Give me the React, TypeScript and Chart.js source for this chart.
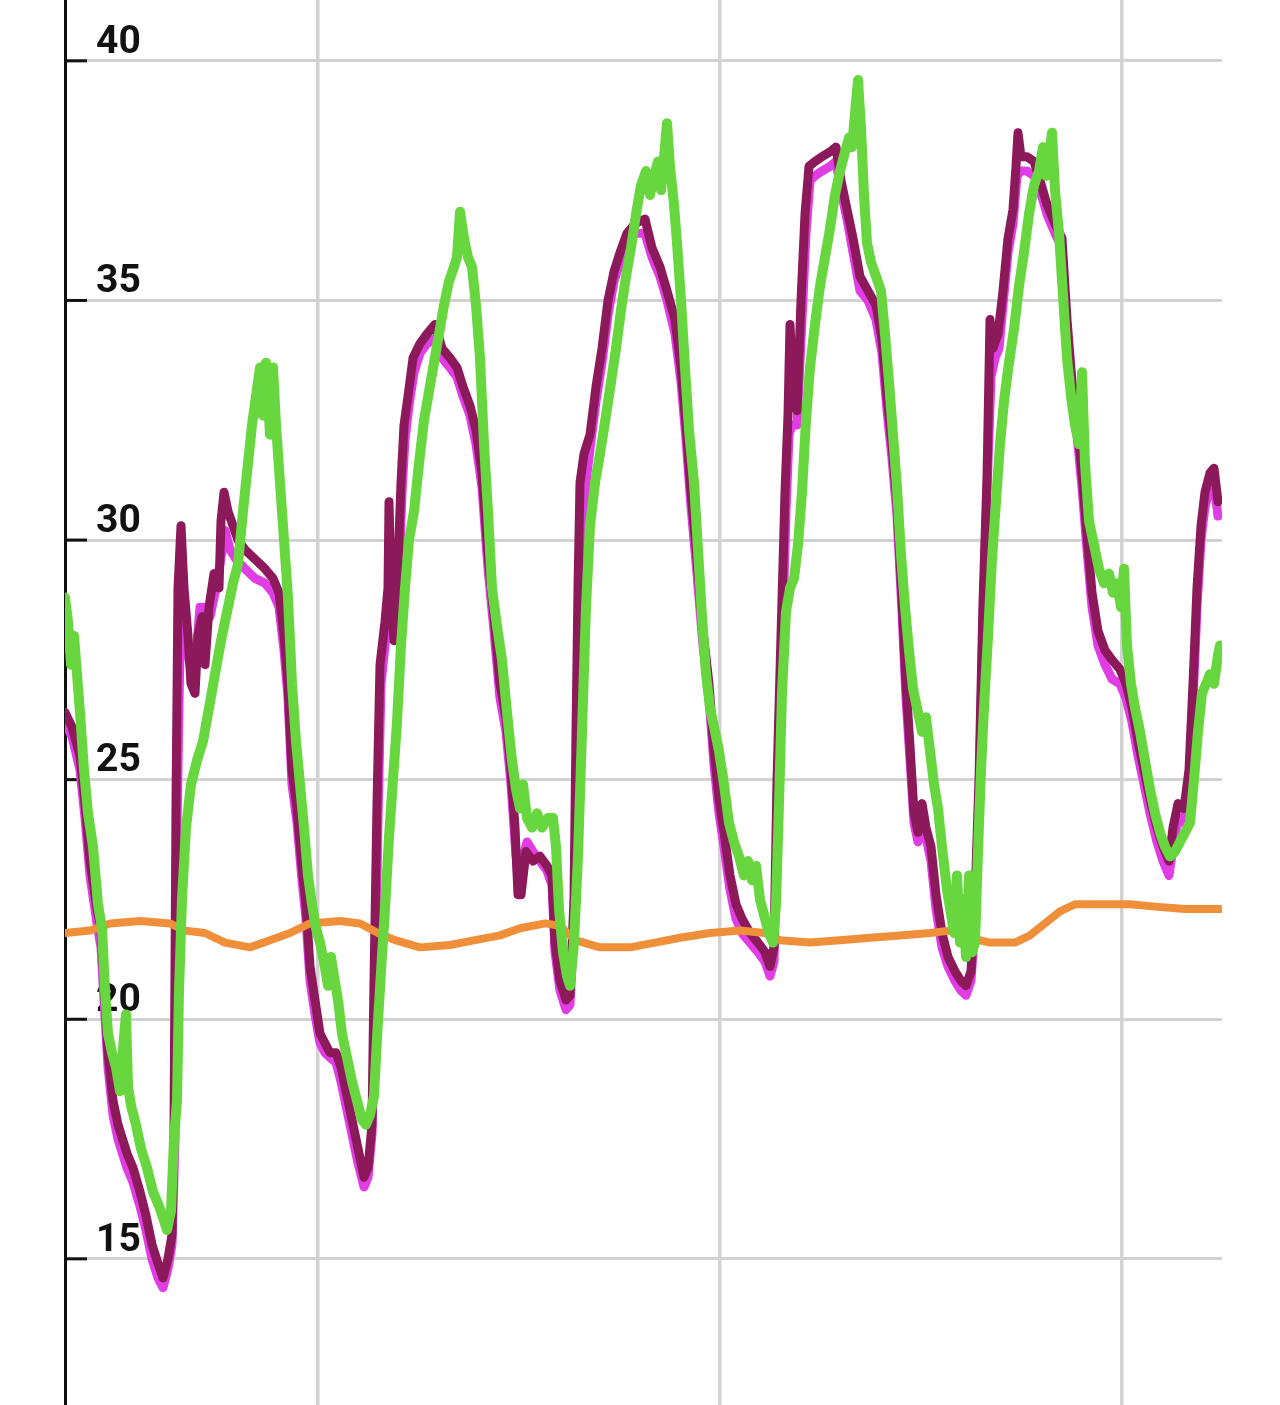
import { useEffect, useRef } from "react";
import { Chart, registerables, type ChartConfiguration, type Plugin } from "chart.js";

Chart.register(...registerables);

// x is the sample number along the log, y the reading
const yTickValues = [15, 20, 25, 30, 35, 40];
const xGridValues = [253, 655, 1057];

const darkMagenta: [number, number][] = [
  [0, 26.4], [7, 26.1], [15, 25.5], [20, 24.5], [25, 23.3], [32, 22.3], [36, 21.9], [39, 20.8],
  [43, 19.3], [48, 18.3], [53, 17.8], [62, 17.2], [68, 16.9], [75, 16.4], [81, 15.9], [87, 15.3],
  [93, 14.9], [98, 14.6], [103, 15.0], [107, 15.5], [109, 17.7], [111, 24.5], [113, 29.0], [116, 30.3],
  [119, 29.0], [123, 28.0], [126, 27.0], [130, 26.8], [133, 28.0], [137, 28.4], [140, 27.4], [144, 28.6],
  [149, 29.3], [154, 29.0], [156, 30.4], [159, 31.0], [163, 30.6], [168, 30.3], [173, 30.0], [180, 29.8],
  [190, 29.6], [200, 29.4], [208, 29.2], [214, 28.9], [219, 28.0], [223, 27.0], [227, 25.2], [232, 24.4],
  [237, 23.2], [241, 22.4], [245, 21.1], [250, 20.4], [255, 19.7], [260, 19.5], [265, 19.3], [271, 19.3],
  [276, 19.0], [282, 18.4], [287, 17.9], [293, 17.3], [299, 16.7], [303, 16.9], [307, 17.8], [309, 20.8],
  [312, 24.5], [315, 27.4], [320, 28.3], [323, 29.0], [324, 30.8], [326, 29.0], [329, 27.9], [333, 29.5],
  [336, 31.2], [339, 32.4], [343, 33.0], [348, 33.8], [355, 34.1], [362, 34.3], [370, 34.5], [377, 34.0],
  [385, 33.8], [392, 33.6], [398, 33.2], [405, 32.8], [411, 32.3], [417, 31.4], [423, 29.7], [429, 28.4],
  [435, 27.0], [441, 26.3], [446, 25.2], [450, 24.0], [453, 22.6], [456, 22.6], [461, 23.5], [468, 23.3],
  [475, 23.4], [482, 23.2], [487, 23.0], [490, 21.6], [495, 20.8], [501, 20.4], [505, 20.5], [509, 22.5],
  [511, 26.0], [513, 29.0], [515, 31.2], [519, 31.8], [525, 32.2], [531, 33.2], [537, 34.0], [543, 35.0],
  [549, 35.6], [555, 36.0], [562, 36.4], [570, 36.6], [580, 36.7], [587, 36.1], [595, 35.7], [602, 35.2],
  [610, 34.6], [616, 33.6], [621, 32.4], [626, 31.0], [632, 29.6], [638, 28.1], [644, 27.0], [649, 25.6],
  [654, 24.6], [659, 23.9], [665, 23.0], [671, 22.4], [677, 22.1], [685, 21.8], [693, 21.6], [700, 21.4],
  [705, 21.1], [709, 21.5], [712, 25.0], [716, 28.0], [720, 31.0], [723, 32.6], [725, 34.5], [728, 33.0],
  [732, 32.7], [736, 35.0], [740, 36.8], [744, 37.8], [750, 37.9], [757, 38.0], [765, 38.1], [771, 38.2],
  [776, 37.5], [782, 36.9], [788, 36.3], [795, 35.5], [803, 35.2], [811, 34.9], [817, 34.2], [822, 33.0],
  [827, 32.0], [832, 30.8], [837, 28.8], [841, 27.0], [845, 25.7], [849, 24.3], [853, 23.9], [857, 24.5],
  [861, 24.0], [866, 23.6], [871, 22.6], [877, 21.8], [883, 21.3], [890, 21.0], [896, 20.8], [901, 20.7],
  [906, 21.0], [910, 22.5], [914, 25.0], [918, 28.7], [922, 31.3], [925, 34.6], [928, 34.0], [933, 34.3],
  [938, 35.2], [943, 36.3], [948, 36.9], [951, 37.8], [953, 38.5], [956, 38.0], [962, 38.0], [969, 37.9],
  [975, 37.5], [982, 37.0], [990, 36.6], [997, 36.3], [1002, 34.6], [1007, 33.3], [1012, 32.5], [1017, 31.4],
  [1022, 30.1], [1027, 28.9], [1033, 28.1], [1040, 27.7], [1047, 27.5], [1055, 27.3], [1061, 27.0], [1067, 26.5],
  [1073, 25.8], [1079, 25.2], [1085, 24.6], [1092, 24.0], [1098, 23.6], [1104, 23.3], [1108, 24.0], [1113, 24.5],
  [1119, 24.4], [1124, 25.2], [1128, 27.0], [1132, 29.0], [1136, 30.3], [1140, 31.0], [1145, 31.4], [1149, 31.5],
  [1153, 30.8],
];

const brightMagenta: [number, number][] = [
  [0, 26.2], [7, 25.9], [15, 25.2], [20, 24.2], [25, 23.0], [32, 22.0], [36, 21.5], [39, 20.4],
  [43, 19.0], [48, 18.0], [53, 17.5], [62, 16.9], [68, 16.6], [75, 16.1], [81, 15.6], [87, 15.0],
  [93, 14.6], [98, 14.4], [103, 14.8], [107, 15.3], [110, 17.5], [112, 24.0], [115, 27.8], [119, 28.2],
  [123, 27.6], [127, 27.2], [131, 27.6], [135, 28.6], [140, 28.6], [145, 28.4], [150, 28.9], [155, 29.5],
  [160, 30.2], [165, 29.8], [171, 29.6], [180, 29.4], [190, 29.2], [200, 29.1], [208, 28.9], [214, 28.6],
  [219, 27.7], [223, 26.7], [227, 24.9], [232, 24.1], [237, 22.9], [241, 22.1], [245, 20.8], [250, 20.1],
  [255, 19.5], [260, 19.3], [265, 19.2], [271, 19.1], [276, 18.7], [282, 18.1], [287, 17.6], [293, 17.0],
  [299, 16.5], [303, 16.7], [307, 17.6], [310, 20.5], [313, 24.2], [316, 27.0], [321, 28.0], [325, 28.6],
  [330, 28.0], [334, 29.3], [337, 31.0], [340, 32.1], [344, 32.8], [349, 33.5], [355, 33.9], [362, 34.1],
  [370, 34.2], [377, 33.8], [385, 33.6], [392, 33.4], [398, 33.0], [405, 32.6], [411, 32.0], [417, 31.1],
  [423, 29.4], [429, 28.1], [435, 26.7], [441, 26.0], [446, 24.9], [450, 23.7], [453, 22.9], [457, 23.3],
  [462, 23.7], [468, 23.5], [475, 23.3], [482, 23.1], [487, 22.8], [490, 21.4], [495, 20.6], [501, 20.2],
  [505, 20.3], [509, 22.0], [512, 25.5], [514, 28.5], [517, 29.8], [521, 31.2], [525, 31.9], [531, 32.9],
  [537, 33.7], [543, 34.7], [549, 35.4], [555, 35.8], [562, 36.2], [570, 36.4], [580, 36.4], [587, 35.9],
  [595, 35.5], [602, 35.0], [610, 34.3], [616, 33.3], [621, 32.1], [626, 30.7], [632, 29.3], [638, 27.8],
  [644, 26.7], [649, 25.3], [654, 24.3], [659, 23.6], [665, 22.7], [671, 22.1], [677, 21.8], [685, 21.6],
  [693, 21.4], [700, 21.2], [705, 20.9], [709, 21.2], [713, 24.5], [717, 27.6], [721, 30.6], [724, 32.2],
  [727, 32.4], [732, 32.4], [737, 34.6], [741, 36.4], [745, 37.5], [750, 37.6], [757, 37.7], [765, 37.8],
  [771, 37.9], [776, 37.3], [782, 36.7], [788, 36.0], [795, 35.2], [803, 35.0], [811, 34.6], [817, 33.9],
  [822, 32.7], [827, 31.7], [832, 30.5], [837, 28.5], [841, 26.7], [845, 25.4], [849, 24.1], [853, 23.7],
  [857, 24.2], [861, 23.8], [866, 23.3], [871, 22.3], [877, 21.5], [883, 21.1], [890, 20.8], [896, 20.6],
  [901, 20.5], [906, 20.8], [910, 22.0], [914, 24.6], [918, 28.3], [922, 31.0], [926, 33.4], [930, 33.8],
  [934, 34.0], [938, 34.9], [943, 36.0], [948, 36.6], [952, 37.6], [956, 37.7], [962, 37.7], [969, 37.6],
  [975, 37.3], [982, 36.8], [990, 36.4], [997, 36.1], [1002, 34.3], [1007, 33.0], [1012, 32.2], [1017, 31.1],
  [1022, 29.8], [1027, 28.6], [1033, 27.8], [1040, 27.4], [1047, 27.1], [1055, 27.0], [1061, 26.7], [1067, 26.2],
  [1073, 25.5], [1079, 24.9], [1085, 24.3], [1092, 23.7], [1098, 23.3], [1104, 23.0], [1108, 23.6], [1113, 24.2],
  [1119, 24.1], [1124, 24.9], [1128, 26.6], [1132, 28.6], [1136, 30.0], [1140, 30.7], [1145, 31.1], [1149, 31.2],
  [1153, 30.5],
];

const green: [number, number][] = [
  [0, 28.8], [3, 28.3], [6, 27.4], [9, 28.0], [12, 27.2], [15, 26.4], [19, 25.2], [23, 24.3],
  [28, 23.6], [33, 22.4], [37, 21.9], [40, 20.6], [43, 19.7], [47, 19.3], [51, 19.0], [55, 18.5],
  [58, 19.4], [61, 20.1], [63, 18.6], [66, 18.2], [71, 17.8], [76, 17.3], [82, 16.9], [88, 16.4],
  [94, 16.1], [99, 15.8], [102, 15.6], [106, 16.0], [109, 17.5], [112, 18.3], [114, 20.6], [117, 22.5],
  [121, 24.0], [126, 24.9], [132, 25.4], [138, 25.8], [144, 26.5], [150, 27.2], [156, 27.9], [162, 28.5],
  [168, 29.1], [173, 29.5], [178, 30.6], [183, 31.6], [187, 32.4], [191, 33.0], [195, 33.6], [198, 32.6],
  [201, 33.7], [205, 32.2], [208, 33.6], [211, 32.4], [215, 31.2], [219, 30.0], [223, 28.8], [227, 27.0],
  [231, 25.8], [235, 24.9], [239, 24.0], [243, 23.0], [247, 22.4], [251, 21.9], [255, 21.6], [259, 21.2],
  [263, 20.7], [266, 21.3], [269, 20.9], [273, 20.4], [277, 19.7], [282, 19.2], [287, 18.7], [292, 18.3],
  [297, 17.9], [301, 17.8], [305, 18.0], [309, 18.4], [312, 19.6], [316, 21.0], [320, 22.3], [324, 23.8],
  [328, 25.0], [332, 26.2], [336, 27.8], [340, 29.0], [344, 30.0], [349, 30.6], [354, 31.6], [359, 32.5],
  [364, 33.1], [369, 33.7], [374, 34.3], [379, 34.9], [384, 35.4], [389, 35.7], [392, 35.9], [395, 36.85],
  [399, 36.3], [403, 35.9], [407, 35.7], [411, 34.9], [415, 33.8], [419, 32.0], [423, 30.6], [427, 29.0],
  [432, 28.2], [437, 27.5], [442, 26.4], [447, 25.4], [451, 24.8], [455, 24.4], [458, 24.9], [462, 24.2],
  [467, 24.0], [472, 24.3], [477, 24.0], [483, 24.2], [488, 24.2], [491, 23.6], [494, 22.3], [498, 21.4],
  [502, 20.9], [505, 20.7], [509, 21.6], [513, 23.4], [517, 26.0], [521, 28.6], [525, 30.3], [530, 31.2],
  [535, 31.8], [541, 32.6], [546, 33.3], [551, 34.0], [556, 34.8], [561, 35.5], [566, 36.1], [571, 36.8],
  [576, 37.4], [581, 37.7], [585, 37.2], [589, 37.6], [593, 37.9], [596, 37.3], [599, 38.0], [602, 38.7],
  [605, 37.8], [609, 37.0], [612, 36.2], [616, 35.0], [620, 33.6], [624, 32.3], [629, 31.2], [633, 29.8],
  [637, 28.4], [641, 27.2], [645, 26.5], [649, 26.1], [654, 25.6], [659, 24.9], [664, 24.1], [669, 23.7],
  [674, 23.4], [679, 23.0], [683, 23.3], [687, 22.9], [691, 23.2], [695, 22.5], [700, 22.1], [704, 21.8],
  [708, 21.6], [711, 22.4], [714, 24.5], [717, 26.8], [721, 28.5], [725, 29.0], [729, 29.2], [733, 29.9],
  [737, 31.0], [741, 32.5], [745, 33.6], [750, 34.5], [755, 35.3], [760, 35.9], [765, 36.5], [770, 37.2],
  [775, 37.7], [780, 38.1], [784, 38.4], [787, 38.2], [790, 38.9], [793, 39.6], [796, 38.6], [799, 37.2],
  [802, 36.2], [806, 35.8], [811, 35.5], [816, 35.2], [820, 34.3], [824, 33.3], [828, 32.2], [832, 31.1],
  [836, 29.7], [840, 28.6], [844, 27.7], [848, 26.9], [853, 26.4], [857, 26.0], [861, 26.3], [865, 25.6],
  [869, 24.9], [873, 24.4], [877, 23.6], [882, 22.7], [886, 22.2], [889, 21.8], [892, 23.0], [895, 21.6],
  [898, 22.5], [901, 21.3], [904, 23.0], [907, 21.4], [910, 21.6], [913, 23.5], [916, 25.2], [919, 26.5],
  [923, 28.0], [927, 29.6], [931, 30.8], [935, 32.0], [939, 32.9], [944, 33.7], [949, 34.4], [954, 35.3],
  [959, 36.0], [964, 36.8], [969, 37.4], [974, 37.7], [978, 38.2], [981, 37.6], [984, 38.0], [987, 38.5],
  [990, 37.3], [994, 36.4], [998, 35.1], [1002, 33.8], [1006, 33.0], [1010, 32.4], [1014, 32.0], [1017, 33.5],
  [1020, 31.6], [1024, 30.4], [1029, 29.9], [1034, 29.4], [1039, 29.1], [1044, 29.3], [1048, 28.9], [1052, 29.1],
  [1056, 28.6], [1059, 29.4], [1062, 27.8], [1066, 27.0], [1070, 26.5], [1075, 26.0], [1080, 25.4], [1085, 24.8],
  [1090, 24.3], [1095, 23.9], [1100, 23.6], [1105, 23.4], [1110, 23.5], [1115, 23.7], [1120, 23.9], [1125, 24.1],
  [1129, 25.0], [1133, 26.0], [1137, 26.8], [1141, 27.0], [1145, 27.2], [1149, 27.0], [1153, 27.6], [1155, 27.8],
];

const orange: [number, number][] = [
  [0, 21.8], [25, 21.85], [45, 22.0], [75, 22.05], [105, 22.0], [120, 21.85], [140, 21.8], [160, 21.6],
  [185, 21.5], [205, 21.65], [225, 21.8], [245, 22.0], [275, 22.05], [295, 22.0], [313, 21.8], [330, 21.65],
  [355, 21.5], [385, 21.55], [410, 21.65], [435, 21.75], [455, 21.9], [480, 22.0], [495, 21.95], [510, 21.65],
  [535, 21.5], [565, 21.5], [590, 21.6], [615, 21.7], [645, 21.8], [675, 21.85], [700, 21.8], [715, 21.65],
  [745, 21.6], [775, 21.65], [805, 21.7], [835, 21.75], [865, 21.8], [885, 21.85], [905, 21.7], [925, 21.6],
  [950, 21.6], [965, 21.75], [980, 22.0], [995, 22.25], [1010, 22.4], [1035, 22.4], [1065, 22.4], [1090, 22.35],
  [1120, 22.3], [1155, 22.3],
];

const toPoints = (rows: [number, number][]) => rows.map(([x, y]) => ({ x, y }));

// short black marks pointing into the plot at each y tick
const innerTicks: Plugin<"line"> = {
  id: "innerTicks",
  beforeDatasetsDraw(chart) {
    const { ctx, chartArea, scales } = chart;
    const y = scales.y;
    ctx.save();
    ctx.strokeStyle = "#111111";
    ctx.lineWidth = 3;
    for (const t of y.ticks) {
      const py = y.getPixelForValue(t.value);
      ctx.beginPath();
      ctx.moveTo(chartArea.left, py);
      ctx.lineTo(chartArea.left + 22, py);
      ctx.stroke();
    }
    ctx.restore();
  },
};

const line = (label: string, rows: [number, number][], color: string, width: number) => ({
  label,
  data: toPoints(rows),
  borderColor: color,
  backgroundColor: color,
  borderWidth: width,
  pointRadius: 0,
  tension: 0,
  borderJoinStyle: "round" as const,
  borderCapStyle: "round" as const,
  fill: false,
});

export default function App() {
  const canvasRef = useRef<HTMLCanvasElement>(null);

  useEffect(() => {
    const canvas = canvasRef.current;
    if (!canvas) return;

    const config: ChartConfiguration<"line"> = {
      type: "line",
      data: {
        datasets: [
          line("green", green, "#67D63F", 10),
          line("orange", orange, "#EF8F3A", 8),
          line("dark magenta", darkMagenta, "#8C1A5B", 9),
          line("magenta", brightMagenta, "#E13DE4", 9),
        ],
      },
      options: {
        responsive: true,
        maintainAspectRatio: false,
        animation: false,
        layout: { padding: { left: 65, right: 58, top: 0, bottom: 0 } },
        plugins: {
          legend: { display: false },
          tooltip: { enabled: false },
        },
        scales: {
          x: {
            type: "linear",
            min: 0,
            max: 1157,
            afterBuildTicks: (scale) => {
              scale.ticks = xGridValues.map((value) => ({ value }));
            },
            ticks: { display: false },
            grid: { color: "#d2d2d2", lineWidth: 3.5, drawTicks: false },
            border: { display: false },
          },
          y: {
            type: "linear",
            min: 11.95,
            max: 41.27,
            afterBuildTicks: (scale) => {
              scale.ticks = yTickValues.map((value) => ({ value }));
            },
            afterFit: (scale) => {
              scale.width = 0;
              scale.paddingTop = 0;
              scale.paddingBottom = 0;
            },
            ticks: {
              mirror: true,
              padding: 31,
              labelOffset: -18,
              color: "#111111",
              font: { family: "Roboto", size: 39, weight: "bold" },
            },
            grid: { color: "#d2d2d2", lineWidth: 3, drawTicks: false },
            border: { display: true, color: "#111111", width: 3 },
          },
        },
      },
      plugins: [innerTicks],
    };

    const chart = new Chart(canvas, config);
    return () => chart.destroy();
  }, []);

  return (
    <div style={{ position: "absolute", left: 0, top: 0, width: 1280, height: 1405, background: "#ffffff" }}>
      <canvas ref={canvasRef} />
    </div>
  );
}
